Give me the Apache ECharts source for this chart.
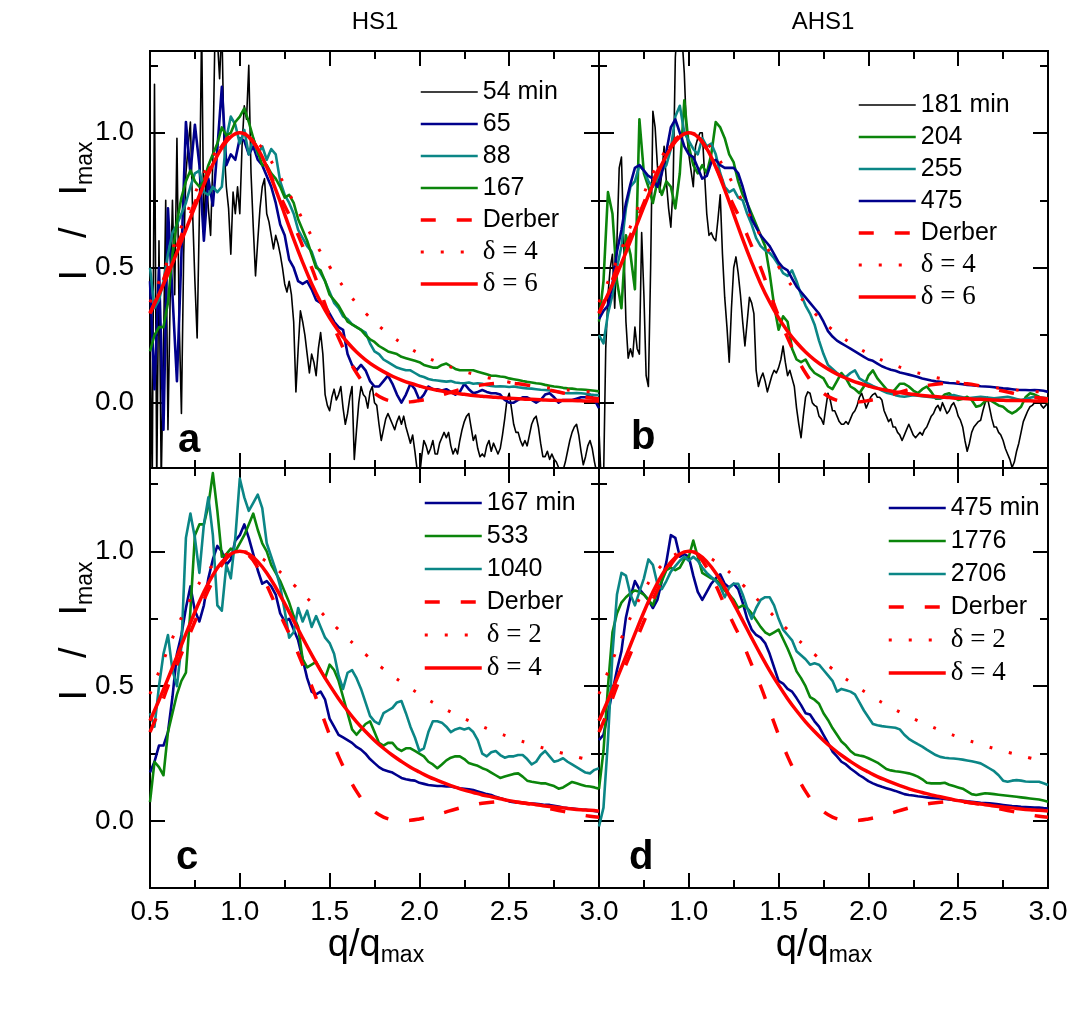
<!DOCTYPE html>
<html><head><meta charset="utf-8">
<script src="https://cdn.jsdelivr.net/npm/echarts@6/dist/echarts.min.js"></script>
<style>html,body{margin:0;padding:0;background:#fff}#c{width:1080px;height:1010px}</style>
</head><body><div id="c"></div>
<script>
// ---------- x sample positions (q/qmax) ----------
const qCoarse = [0.5,0.55,0.6,0.65,0.7,0.75,0.8,0.85,0.9,0.95,
1,1.05,1.1,1.15,1.2,1.25,1.3,1.35,1.4,1.45,
1.5,1.55,1.6,1.65,1.7,1.75,1.8,1.85,1.9,1.95,
2,2.05,2.1,2.15,2.2,2.25,2.3,2.35,2.4,2.45,
2.5,2.55,2.6,2.65,2.7,2.75,2.8,2.85,2.9,2.95,3];
const qFine = [0.5,0.525,0.55,0.575,0.6,0.625,0.65,0.675,0.7,0.725,
0.75,0.775,0.8,0.825,0.85,0.875,0.9,0.925,0.95,0.975,
1,1.025,1.05,1.075,1.1,1.125,1.15,1.175,1.2,1.225,
1.25,1.275,1.3,1.325,1.35,1.375,1.4,1.425,1.45,1.475,
1.5,1.525,1.55,1.575,1.6,1.625,1.65,1.675,1.7,1.725,
1.75,1.775,1.8,1.825,1.85,1.875,1.9,1.925,1.95,1.975,
2,2.025,2.05,2.075,2.1,2.125,2.15,2.175,2.2,2.225,
2.25,2.275,2.3,2.325,2.35,2.375,2.4,2.425,2.45,2.475,
2.5,2.525,2.55,2.575,2.6,2.625,2.65,2.675,2.7,2.725,
2.75,2.775,2.8,2.825,2.85,2.875,2.9,2.925,2.95,2.975,3];
const qBlack = [0.5,0.5125,0.525,0.5375,0.55,0.5625,0.575,0.5875,
0.6,0.6125,0.625,0.6375,0.65,0.6625,0.675,0.6875,
0.7,0.7125,0.725,0.7375,0.75,0.7625,0.775,0.7875,
0.8,0.8125,0.825,0.8375,0.85,0.8625,0.875,0.8875,
0.9,0.9125,0.925,0.9375,0.95,0.9625,0.975,0.9875,
1,1.0125,1.025,1.0375,1.05,1.0625,1.075,1.0875,
1.1,1.1125,1.125,1.1375,1.15,1.1625,1.175,1.1875,
1.2,1.2125,1.225,1.2375,1.25,1.2625,1.275,1.2875,
1.3,1.3125,1.325,1.3375,1.35,1.3625,1.375,1.3875,
1.4,1.4125,1.425,1.4375,1.45,1.4625,1.475,1.4875,
1.5,1.5125,1.525,1.5375,1.55,1.5625,1.575,1.5875,
1.6,1.6125,1.625,1.6375,1.65,1.6625,1.675,1.6875,
1.7,1.7125,1.725,1.7375,1.75,1.7625,1.775,1.7875,
1.8,1.8125,1.825,1.8375,1.85,1.8625,1.875,1.8875,
1.9,1.9125,1.925,1.9375,1.95,1.9625,1.975,1.9875,
2,2.0125,2.025,2.0375,2.05,2.0625,2.075,2.0875,
2.1,2.1125,2.125,2.1375,2.15,2.1625,2.175,2.1875,
2.2,2.2125,2.225,2.2375,2.25,2.2625,2.275,2.2875,
2.3,2.3125,2.325,2.3375,2.35,2.3625,2.375,2.3875,
2.4,2.4125,2.425,2.4375,2.45,2.4625,2.475,2.4875,
2.5,2.5125,2.525,2.5375,2.55,2.5625,2.575,2.5875,
2.6,2.6125,2.625,2.6375,2.65,2.6625,2.675,2.6875,
2.7,2.7125,2.725,2.7375,2.75,2.7625,2.775,2.7875,
2.8,2.8125,2.825,2.8375,2.85,2.8625,2.875,2.8875,
2.9,2.9125,2.925,2.9375,2.95,2.9625,2.975,2.9875,3];

// ---------- model curves (on qCoarse) ----------
const derber = [0.33,0.41,0.50,0.58,0.66,0.74,0.82,0.89,0.95,0.99,
1.00,0.985,0.94,0.875,0.80,0.73,0.66,0.58,0.50,0.41,
0.32,0.24,0.17,0.11,0.065,0.035,0.015,0.005,0.002,0.003,
0.008,0.015,0.024,0.034,0.044,0.053,0.06,0.066,0.07,0.072,
0.072,0.07,0.065,0.058,0.05,0.043,0.036,0.029,0.023,0.018,0.014];
const delta6 = [0.333,0.402,0.477,0.557,0.641,0.726,0.808,0.883,0.944,0.985,
1.0,0.985,0.941,0.873,0.789,0.698,0.606,0.52,0.441,0.373,
0.314,0.265,0.223,0.188,0.159,0.135,0.115,0.098,0.084,0.072,
0.062,0.053,0.046,0.040,0.035,0.031,0.027,0.024,0.021,0.019,
0.016,0.015,0.013,0.012,0.010,0.009,0.008,0.008,0.007,0.006,0.006];
const delta4 = [0.372,0.448,0.528,0.611,0.694,0.775,0.849,0.912,0.96,0.99,
1.0,0.99,0.962,0.92,0.866,0.806,0.743,0.679,0.617,0.558,
0.504,0.454,0.409,0.368,0.332,0.299,0.27,0.244,0.221,0.2,
0.182,0.165,0.151,0.138,0.126,0.115,0.106,0.097,0.09,0.083,
0.076,0.07,0.065,0.061,0.056,0.052,0.049,0.045,0.042,0.04,0.037];
const delta2 = [0.471,0.554,0.637,0.717,0.79,0.855,0.908,0.949,0.978,0.995,
1.0,0.995,0.982,0.962,0.937,0.908,0.877,0.843,0.81,0.776,
0.742,0.71,0.678,0.647,0.618,0.59,0.564,0.538,0.515,0.492,
0.471,0.45,0.431,0.413,0.396,0.38,0.365,0.351,0.337,0.324,
0.312,0.3,0.29,0.279,0.269,0.26,0.251,0.243,0.234,0.227,0.22];

// ---------- panel a: HS1 early (54 min on qBlack, others on qFine) ----------
const a54 = [0.30,-0.30,1.18,-0.30,0.60,-0.30,0.20,0.75,
-0.10,0.40,0.75,0.40,0.98,0.30,-0.04,0.55,
0.85,0.95,1.04,0.70,0.45,0.24,0.70,1.40,
0.60,0.85,0.72,0.62,0.90,1.40,1.35,1.20,
1.40,0.95,0.80,0.72,0.55,0.78,0.70,0.80,
0.70,0.95,1.10,1.05,1.25,0.85,0.65,0.47,
0.60,0.72,0.80,0.83,0.70,0.67,0.62,0.57,
0.62,0.59,0.55,0.50,0.44,0.41,0.45,0.40,
0.30,0.04,0.20,0.34,0.30,0.25,0.18,0.11,
0.18,0.15,0.10,0.20,0.26,0.18,0.03,-0.01,
-0.03,0.02,0.05,0.01,0.03,0.06,-0.02,-0.08,
-0.04,0.02,0.06,-0.21,-0.10,0.00,0.06,0.03,
0.02,-0.02,0.04,0.06,0.00,-0.01,-0.08,-0.14,
-0.10,-0.06,-0.04,-0.06,-0.08,-0.10,-0.07,-0.05,
-0.08,-0.05,-0.09,-0.12,-0.15,-0.12,-0.18,-0.25,
-0.28,-0.20,-0.14,-0.16,-0.19,-0.17,-0.14,-0.19,
-0.19,-0.15,-0.13,-0.11,-0.13,-0.11,-0.16,-0.19,
-0.17,-0.19,-0.14,-0.10,-0.07,-0.05,-0.04,-0.09,
-0.14,-0.12,-0.17,-0.20,-0.19,-0.20,-0.16,-0.14,
-0.18,-0.15,-0.17,-0.19,-0.17,-0.12,-0.06,0.01,
0.035,-0.02,-0.08,-0.11,-0.11,-0.14,-0.16,-0.14,
-0.16,-0.12,-0.08,-0.06,-0.05,-0.09,-0.15,-0.20,
-0.20,-0.18,-0.21,-0.19,-0.21,-0.22,-0.24,-0.26,
-0.25,-0.22,-0.18,-0.14,-0.11,-0.09,-0.08,-0.12,
-0.18,-0.23,-0.20,-0.16,-0.14,-0.17,-0.22,-0.26,-0.24];
const a65 = [0.45,0.05,0.50,-0.10,0.72,0.40,0.08,0.55,1.04,0.85,
1.03,0.88,0.60,0.83,0.73,0.94,1.17,0.88,0.92,0.90,
0.98,0.97,0.92,0.95,0.90,0.88,0.84,0.80,0.74,0.66,
0.62,0.53,0.50,0.45,0.44,0.45,0.42,0.38,0.37,0.36,
0.33,0.30,0.28,0.27,0.18,0.14,0.12,0.14,0.12,0.08,
0.06,0.06,0.08,0.10,0.07,0.03,0.00,0.03,0.07,0.05,
0.01,0.03,0.06,0.05,0.05,0.045,0.05,0.04,0.03,0.04,
0.07,0.05,0.035,0.04,0.047,0.04,0.035,0.035,0.03,0.01,
0.00,0.00,0.01,0.02,0.02,0.01,0.00,0.01,0.03,0.035,
0.02,0.00,0.01,0.01,0.01,0.015,0.02,0.02,0.03,0.01,-0.02];
const a88 = [0.50,0.35,0.38,0.45,0.55,0.63,0.66,0.70,0.74,0.80,
0.85,0.86,0.78,0.77,0.80,0.78,0.80,0.98,1.06,1.03,
0.96,1.01,0.92,0.98,0.92,0.95,0.90,0.94,0.92,0.82,
0.77,0.74,0.70,0.64,0.61,0.58,0.56,0.51,0.48,0.45,
0.41,0.37,0.35,0.32,0.31,0.29,0.28,0.27,0.26,0.22,
0.19,0.18,0.16,0.15,0.14,0.13,0.125,0.12,0.12,0.11,
0.10,0.095,0.088,0.084,0.082,0.08,0.078,0.08,0.075,0.073,
0.072,0.075,0.07,0.072,0.07,0.065,0.062,0.06,0.061,0.06,
0.058,0.06,0.057,0.055,0.053,0.052,0.05,0.048,0.047,0.045,
0.042,0.04,0.036,0.035,0.035,0.036,0.035,0.033,0.03,0.028,0.028];
const a167 = [0.19,0.25,0.28,0.28,0.37,0.55,0.67,0.76,0.82,0.86,
0.82,0.80,0.82,0.88,0.92,0.96,1.02,0.99,1.00,1.04,
1.06,1.09,1.04,0.98,0.93,0.88,0.88,0.85,0.83,0.80,
0.76,0.77,0.74,0.68,0.64,0.60,0.55,0.50,0.49,0.45,
0.40,0.38,0.36,0.33,0.30,0.29,0.28,0.27,0.25,0.235,
0.225,0.21,0.20,0.19,0.185,0.18,0.17,0.165,0.16,0.155,
0.15,0.14,0.135,0.13,0.13,0.14,0.145,0.135,0.125,0.12,
0.12,0.12,0.12,0.115,0.11,0.105,0.10,0.10,0.097,0.095,
0.09,0.087,0.084,0.08,0.077,0.075,0.072,0.07,0.066,0.063,
0.06,0.058,0.055,0.053,0.052,0.05,0.049,0.048,0.046,0.044,0.042];

// ---------- panel b: AHS1 early (181 min on qBlack) ----------
const b181 = [-0.10,-0.30,-0.30,0.20,0.40,0.50,0.55,0.35,
0.60,0.87,0.91,0.60,0.30,0.165,0.20,0.17,
0.28,0.20,0.18,0.63,0.40,0.10,0.06,0.50,
1.08,1.02,0.88,0.78,0.85,0.95,0.82,0.72,
0.65,0.80,1.28,1.40,1.40,1.35,1.22,1.00,
0.92,0.86,0.80,0.95,0.98,1.00,1.00,0.85,
0.70,0.62,0.63,0.61,0.60,0.68,0.77,0.55,
0.39,0.28,0.15,0.35,0.50,0.54,0.48,0.40,
0.30,0.21,0.30,0.39,0.37,0.33,0.12,0.06,
0.09,0.11,0.08,0.04,0.07,0.10,0.12,0.11,
0.13,0.16,0.21,0.15,0.10,0.12,0.09,0.06,
-0.02,-0.08,-0.13,-0.05,0.02,0.04,0.035,0.00,
-0.01,-0.015,-0.05,-0.06,-0.08,-0.02,0.035,0.01,
-0.03,-0.03,-0.05,-0.07,-0.08,-0.08,-0.07,-0.08,
-0.06,-0.04,-0.03,-0.01,0.02,0.035,0.01,-0.02,
0.00,0.02,0.03,0.035,0.02,0.02,0.01,-0.03,
-0.05,-0.07,-0.06,-0.09,-0.09,-0.11,-0.12,-0.14,
-0.12,-0.10,-0.08,-0.10,-0.12,-0.13,-0.12,-0.11,
-0.12,-0.10,-0.09,-0.07,-0.05,-0.04,-0.02,-0.01,
-0.03,0.00,-0.02,-0.04,-0.03,-0.01,0.00,-0.02,
-0.05,-0.065,-0.09,-0.14,-0.18,-0.15,-0.11,-0.09,
-0.08,-0.07,-0.065,-0.03,0.00,0.02,-0.02,-0.06,
-0.09,-0.09,-0.11,-0.12,-0.14,-0.17,-0.19,-0.21,
-0.24,-0.22,-0.18,-0.15,-0.11,-0.07,-0.05,-0.03,
-0.015,-0.01,0.00,0.005,0.01,-0.01,-0.02,-0.01,0.00];
const b204 = [0.30,0.45,0.78,0.70,0.45,0.35,0.62,0.55,0.42,1.05,
0.85,0.80,0.74,0.82,0.77,0.82,0.80,0.72,0.85,1.12,
0.95,0.88,0.85,0.88,0.85,0.92,1.04,1.02,0.98,0.92,
0.89,0.82,0.77,0.74,0.70,0.66,0.62,0.58,0.48,0.36,
0.27,0.32,0.30,0.20,0.16,0.15,0.16,0.13,0.11,0.10,
0.09,0.06,0.05,0.08,0.11,0.09,0.06,0.05,0.035,0.06,
0.10,0.12,0.09,0.07,0.05,0.035,0.05,0.07,0.07,0.06,
0.045,0.035,0.05,0.06,0.04,0.015,0.015,0.03,0.035,0.02,
0.01,0.015,0.022,0.01,-0.015,-0.01,0.005,0.01,0.0,-0.01,
-0.015,-0.03,-0.04,-0.03,-0.015,0.02,0.035,0.03,0.022,0.01,0.0];
const b255 = [0.25,0.22,0.33,0.40,0.50,0.58,0.72,0.80,0.82,0.88,
0.86,0.82,0.80,0.83,0.86,0.88,0.94,1.06,1.10,1.00,
0.97,0.94,0.92,0.98,0.95,0.96,0.92,0.85,0.80,0.78,
0.79,0.76,0.75,0.70,0.66,0.61,0.58,0.565,0.555,0.535,
0.51,0.48,0.47,0.49,0.45,0.40,0.36,0.33,0.29,0.23,
0.18,0.14,0.125,0.11,0.10,0.095,0.11,0.12,0.09,0.08,
0.07,0.062,0.055,0.045,0.037,0.033,0.028,0.024,0.022,0.025,
0.028,0.026,0.024,0.022,0.02,0.018,0.016,0.02,0.025,0.028,
0.024,0.02,0.016,0.018,0.02,0.022,0.02,0.018,0.016,0.018,
0.02,0.022,0.018,0.014,0.01,0.014,0.018,0.022,0.02,0.018,0.016];
const b475 = [0.31,0.34,0.36,0.44,0.56,0.64,0.74,0.81,0.87,0.88,
0.86,0.84,0.83,0.80,0.85,0.93,1.02,1.05,1.00,0.95,
0.92,0.91,0.87,0.83,0.84,0.89,0.90,0.88,0.87,0.87,
0.87,0.85,0.80,0.74,0.68,0.65,0.62,0.60,0.58,0.55,
0.52,0.50,0.49,0.46,0.43,0.41,0.39,0.37,0.35,0.33,
0.30,0.265,0.245,0.23,0.22,0.21,0.20,0.19,0.18,0.17,
0.16,0.155,0.145,0.135,0.128,0.122,0.118,0.112,0.108,0.104,
0.10,0.095,0.09,0.086,0.082,0.079,0.077,0.075,0.073,0.072,
0.07,0.068,0.066,0.065,0.063,0.061,0.06,0.059,0.057,0.055,
0.053,0.052,0.05,0.048,0.047,0.047,0.046,0.047,0.046,0.044,0.04];

// ---------- panel c: HS1 late ----------
const c167 = [0.18,0.22,0.28,0.28,0.33,0.46,0.62,0.69,0.79,0.87,
0.78,0.74,0.80,0.90,0.97,1.02,1.00,0.95,0.97,1.04,
1.06,1.10,1.05,0.99,0.93,0.88,0.89,0.87,0.84,0.77,
0.74,0.75,0.71,0.67,0.60,0.53,0.48,0.47,0.48,0.45,
0.38,0.35,0.32,0.31,0.30,0.29,0.275,0.265,0.25,0.23,
0.215,0.20,0.19,0.185,0.18,0.17,0.16,0.155,0.152,0.15,
0.142,0.138,0.134,0.132,0.13,0.13,0.128,0.128,0.125,0.122,
0.12,0.118,0.115,0.11,0.105,0.10,0.097,0.09,0.085,0.08,
0.073,0.07,0.069,0.068,0.066,0.065,0.064,0.062,0.06,0.06,
0.057,0.054,0.05,0.048,0.047,0.045,0.043,0.042,0.04,0.038,0.035];
const c533 = [0.07,0.22,0.20,0.17,0.33,0.40,0.47,0.52,0.55,0.78,
1.06,1.10,1.10,1.17,1.29,1.15,0.98,0.99,1.01,1.00,
1.03,1.06,1.10,1.14,1.08,1.03,1.00,0.95,0.92,0.89,
0.85,0.81,0.76,0.72,0.60,0.57,0.58,0.59,0.56,0.53,
0.58,0.56,0.52,0.46,0.40,0.34,0.32,0.34,0.36,0.37,
0.33,0.29,0.28,0.29,0.29,0.27,0.26,0.27,0.27,0.26,
0.25,0.24,0.22,0.21,0.196,0.21,0.225,0.235,0.24,0.24,
0.23,0.215,0.21,0.205,0.196,0.19,0.18,0.17,0.16,0.165,
0.17,0.175,0.177,0.165,0.15,0.146,0.143,0.14,0.14,0.135,
0.13,0.12,0.125,0.135,0.145,0.14,0.135,0.13,0.128,0.125,0.12];
const c1040 = [0.40,0.35,0.50,0.62,0.69,0.56,0.50,0.65,1.05,1.14,
1.05,0.92,1.10,1.20,1.06,0.80,0.78,0.95,0.90,1.05,
1.27,1.20,1.15,1.18,1.21,1.16,1.03,0.98,0.93,0.87,
0.78,0.68,0.70,0.79,0.74,0.78,0.72,0.76,0.72,0.68,
0.66,0.62,0.54,0.49,0.55,0.56,0.53,0.49,0.44,0.39,
0.37,0.36,0.40,0.41,0.42,0.44,0.445,0.40,0.35,0.31,
0.26,0.27,0.33,0.37,0.37,0.365,0.35,0.33,0.34,0.345,
0.34,0.345,0.33,0.30,0.25,0.24,0.255,0.26,0.245,0.235,
0.24,0.24,0.245,0.245,0.23,0.21,0.22,0.245,0.26,0.24,
0.22,0.225,0.233,0.22,0.21,0.20,0.19,0.18,0.177,0.19,0.196];

// ---------- panel d: AHS1 late ----------
const d475 = [0.30,0.32,0.40,0.48,0.56,0.63,0.755,0.83,0.89,0.86,
0.84,0.82,0.79,0.82,0.89,0.96,1.06,1.05,0.98,0.99,
0.98,0.91,0.85,0.82,0.85,0.88,0.90,0.915,0.88,0.866,
0.88,0.86,0.81,0.75,0.71,0.69,0.68,0.66,0.62,0.57,
0.52,0.51,0.49,0.48,0.456,0.43,0.40,0.395,0.37,0.35,
0.32,0.29,0.258,0.24,0.22,0.21,0.195,0.183,0.17,0.16,
0.148,0.14,0.133,0.127,0.122,0.117,0.112,0.106,0.10,0.097,
0.095,0.092,0.09,0.088,0.086,0.085,0.084,0.082,0.08,0.078,
0.077,0.075,0.073,0.072,0.07,0.068,0.067,0.066,0.064,0.062,
0.06,0.058,0.056,0.055,0.053,0.052,0.051,0.05,0.05,0.048,0.047];
const d1776 = [0.12,0.26,0.50,0.70,0.77,0.81,0.83,0.845,0.855,0.85,
0.84,0.82,0.80,0.85,0.89,0.93,0.94,0.93,0.94,0.97,
0.98,1.04,0.98,0.92,0.91,0.90,0.895,0.88,0.855,0.84,
0.82,0.79,0.80,0.79,0.77,0.745,0.72,0.70,0.69,0.70,
0.71,0.675,0.64,0.60,0.555,0.53,0.50,0.46,0.45,0.435,
0.40,0.375,0.345,0.32,0.295,0.28,0.26,0.247,0.243,0.24,
0.233,0.225,0.217,0.205,0.193,0.188,0.185,0.183,0.18,0.177,
0.172,0.165,0.155,0.142,0.14,0.14,0.14,0.142,0.135,0.13,
0.125,0.12,0.11,0.10,0.097,0.10,0.103,0.102,0.10,0.098,
0.096,0.094,0.092,0.09,0.088,0.086,0.084,0.082,0.08,0.076,0.072];
const d2706 = [-0.02,0.05,0.30,0.62,0.84,0.92,0.91,0.84,0.80,0.85,
0.90,0.97,0.95,0.88,0.86,0.89,0.925,0.945,0.965,0.98,
0.965,0.98,0.965,0.94,0.92,0.905,0.89,0.87,0.83,0.866,
0.88,0.88,0.84,0.79,0.75,0.79,0.82,0.83,0.83,0.80,
0.75,0.71,0.69,0.67,0.63,0.615,0.60,0.58,0.585,0.58,
0.56,0.54,0.52,0.48,0.49,0.485,0.48,0.47,0.44,0.41,
0.385,0.36,0.355,0.352,0.35,0.348,0.346,0.34,0.32,0.305,
0.295,0.285,0.276,0.265,0.255,0.245,0.238,0.235,0.233,0.232,
0.23,0.228,0.225,0.222,0.218,0.214,0.205,0.195,0.185,0.17,
0.15,0.146,0.15,0.152,0.15,0.147,0.146,0.146,0.146,0.14,0.134];

// ---------- ticks & texts ----------
const xMajorTicks = [0.5,1,1.5,2,2.5,3];
const xMinorTicks = [0.75,1.25,1.75,2.25,2.75];
const yMajorTicks = [0,0.5,1];
const yMinorTicks = [0.25,0.75,1.25];
const xLabelsLeft = [0.5,1,1.5,2,2.5,3];
const xLabelsRight = [1,1.5,2,2.5,3];
const yLabels = [0,0.5,1];
const sampleTitles = ['HS1','AHS1'];
const panelLetters = ['a','b','c','d'];

// ---------- styling ----------
const FONT = '"Liberation Sans", Arial, Helvetica, sans-serif';
const SERIF = '"Liberation Serif", "Times New Roman", serif';
const C = {black:'#000000', blue:'#00008c', green:'#0b850b', teal:'#0b8686', red:'#ff0000'};
const grids = [
  {left:150, top:51, width:449, height:417},
  {left:599, top:51, width:449, height:417},
  {left:150, top:468, width:449, height:420},
  {left:599, top:468, width:449, height:420}
];
const yRanges = [[-0.242,1.303],[-0.242,1.303],[-0.248,1.309],[-0.248,1.309]];

const xAxis = [], yAxis = [];
grids.forEach((g, i) => {
  const bx = {gridIndex:i, type:'value', min:0.5, max:3.0, splitLine:{show:false},
    axisLine:{show:false, onZero:false}, axisPointer:{show:false}};
  const tick = (vals, len) => ({show:true, inside:true, length:len, customValues:vals,
    lineStyle:{color:'#000', width:2}});
  const xl = i === 2 ? xLabelsLeft : (i === 3 ? xLabelsRight : null);
  xAxis.push(Object.assign({}, bx, {position:'bottom', axisTick:tick(xMajorTicks,15),
    axisLabel: xl ? {show:true, customValues:xl, showMinLabel:true, showMaxLabel:true,
      formatter:v=>Number(v).toFixed(1), fontSize:28, color:'#000', fontFamily:FONT, margin:10} : {show:false}}));
  xAxis.push(Object.assign({}, bx, {position:'bottom', axisTick:tick(xMinorTicks,8), axisLabel:{show:false}}));
  xAxis.push(Object.assign({}, bx, {position:'top', axisTick:tick(xMajorTicks,15), axisLabel:{show:false}}));
  xAxis.push(Object.assign({}, bx, {position:'top', axisTick:tick(xMinorTicks,8), axisLabel:{show:false}}));
  const by = {gridIndex:i, type:'value', min:yRanges[i][0], max:yRanges[i][1], splitLine:{show:false},
    axisLine:{show:false, onZero:false}, axisPointer:{show:false}};
  const yl = (i === 0 || i === 2);
  yAxis.push(Object.assign({}, by, {position:'left', axisTick:tick(yMajorTicks,15),
    axisLabel: yl ? {show:true, customValues:yLabels, formatter:v=>Number(v).toFixed(1),
      fontSize:28, color:'#000', fontFamily:FONT, margin:16} : {show:false}}));
  yAxis.push(Object.assign({}, by, {position:'left', axisTick:tick(yMinorTicks,8), axisLabel:{show:false}}));
  yAxis.push(Object.assign({}, by, {position:'right', axisTick:tick(yMajorTicks,15), axisLabel:{show:false}}));
  yAxis.push(Object.assign({}, by, {position:'right', axisTick:tick(yMinorTicks,8), axisLabel:{show:false}}));
});

const pairs = (xs, ys) => xs.map((x, k) => [x, ys[k]]);
const series = [];
function addLine(panel, name, xs, ys, color, width, type, smooth, z) {
  series.push({
    type:'line', name: panel + '|' + name, xAxisIndex: 4*'abcd'.indexOf(panel), yAxisIndex: 4*'abcd'.indexOf(panel),
    data: pairs(xs, ys), symbol:'none', showSymbol:false, smooth: smooth, clip:true, silent:true, z: z,
    lineStyle:{color:color, width:width, type:type, cap:'butt', join:'round'},
    itemStyle:{color:color}
  });
}
const DASH = [15, 21], DOT = [3, 17];
const W = 2.6;
// panel a
addLine('a','54 min', qBlack, a54, C.black, 1.6, 'solid', false, 2);
addLine('a','65', qFine, a65, C.blue, W, 'solid', false, 2);
addLine('a','88', qFine, a88, C.teal, W, 'solid', false, 2);
addLine('a','167', qFine, a167, C.green, W, 'solid', false, 2);
addLine('a','Derber', qCoarse, derber, C.red, 3.5, DASH, 0.4, 3);
addLine('a','δ = 4', qCoarse, delta4, C.red, 3, DOT, 0.4, 3);
addLine('a','δ = 6', qCoarse, delta6, C.red, 3.5, 'solid', 0.4, 3);
// panel b
addLine('b','181 min', qBlack, b181, C.black, 1.6, 'solid', false, 2);
addLine('b','204', qFine, b204, C.green, W, 'solid', false, 2);
addLine('b','255', qFine, b255, C.teal, W, 'solid', false, 2);
addLine('b','475', qFine, b475, C.blue, W, 'solid', false, 2);
addLine('b','Derber', qCoarse, derber, C.red, 3.5, DASH, 0.4, 3);
addLine('b','δ = 4', qCoarse, delta4, C.red, 3, DOT, 0.4, 3);
addLine('b','δ = 6', qCoarse, delta6, C.red, 3.5, 'solid', 0.4, 3);
// panel c
addLine('c','167 min', qFine, c167, C.blue, W, 'solid', false, 2);
addLine('c','533', qFine, c533, C.green, W, 'solid', false, 2);
addLine('c','1040', qFine, c1040, C.teal, W, 'solid', false, 2);
addLine('c','Derber', qCoarse, derber, C.red, 3.5, DASH, 0.4, 3);
addLine('c','δ = 2', qCoarse, delta2, C.red, 3, DOT, 0.4, 3);
addLine('c','δ = 4', qCoarse, delta4, C.red, 3.5, 'solid', 0.4, 3);
// panel d
addLine('d','475 min', qFine, d475, C.blue, W, 'solid', false, 2);
addLine('d','1776', qFine, d1776, C.green, W, 'solid', false, 2);
addLine('d','2706', qFine, d2706, C.teal, W, 'solid', false, 2);
addLine('d','Derber', qCoarse, derber, C.red, 3.5, DASH, 0.4, 3);
addLine('d','δ = 2', qCoarse, delta2, C.red, 3, DOT, 0.4, 3);
addLine('d','δ = 4', qCoarse, delta4, C.red, 3.5, 'solid', 0.4, 3);

const legendBase = {
  orient:'vertical', itemWidth:57, itemHeight:14, padding:0, selectedMode:false,
  textStyle:{fontSize:25, fontFamily:FONT, color:'#000', lineHeight:30,
    rich:{d:{fontFamily:SERIF, fontSize:27, lineHeight:30, color:'#000'}}},
  formatter: n => { const t = n.split('|')[1]; return t.charAt(0) === 'δ' ? '{d|' + t + '}' : t; },
  lineStyle:{width:'inherit'}, itemStyle:{opacity:0}
};
const legNames = p => series.filter(s => s.name.charAt(0) === p).map(s => s.name);
const legend = [
  Object.assign({}, legendBase, {left:419, top:77, itemGap:2, data:legNames('a')}),
  Object.assign({}, legendBase, {left:857, top:90, itemGap:2, data:legNames('b')}),
  Object.assign({}, legendBase, {left:423, top:488, itemGap:3, data:legNames('c')}),
  Object.assign({}, legendBase, {left:887, top:493, itemGap:3, data:legNames('d')})
];

const richAxis = {
  m:{fontSize:38, fontFamily:FONT, fill:'#000', verticalAlign:'middle'},
  w:{fontSize:38, fontFamily:FONT, width:32, verticalAlign:'middle'},
  s:{fontSize:23, fontFamily:FONT, fill:'#000', verticalAlign:'middle', padding:[20,0,0,0]}
};
const yTitle = '{m|I}{w| }{m|/}{w| }{m|I}{s|max}';
const xTitle = '{m|q/q}{s|max}';
const graphic = [
  {type:'text', x:375, y:22, style:{text:sampleTitles[0], fontSize:24, fontFamily:FONT, fill:'#000', align:'center', verticalAlign:'middle'}},
  {type:'text', x:823, y:22, style:{text:sampleTitles[1], fontSize:24, fontFamily:FONT, fill:'#000', align:'center', verticalAlign:'middle'}},
  {type:'text', x:178, y:441, style:{text:panelLetters[0], fontSize:40, fontWeight:'bold', fontFamily:FONT, fill:'#000', align:'left', verticalAlign:'middle'}},
  {type:'text', x:631, y:438, style:{text:panelLetters[1], fontSize:40, fontWeight:'bold', fontFamily:FONT, fill:'#000', align:'left', verticalAlign:'middle'}},
  {type:'text', x:176, y:858, style:{text:panelLetters[2], fontSize:40, fontWeight:'bold', fontFamily:FONT, fill:'#000', align:'left', verticalAlign:'middle'}},
  {type:'text', x:629, y:858, style:{text:panelLetters[3], fontSize:40, fontWeight:'bold', fontFamily:FONT, fill:'#000', align:'left', verticalAlign:'middle'}},
  {type:'text', x:76, y:211, rotation:Math.PI/2, style:{text:yTitle, rich:richAxis, align:'center', verticalAlign:'middle'}},
  {type:'text', x:76, y:631, rotation:Math.PI/2, style:{text:yTitle, rich:richAxis, align:'center', verticalAlign:'middle'}},
  {type:'text', x:376, y:946, style:{text:xTitle, rich:richAxis, align:'center', verticalAlign:'middle'}},
  {type:'text', x:824, y:946, style:{text:xTitle, rich:richAxis, align:'center', verticalAlign:'middle'}}
];

const chart = echarts.init(document.getElementById('c'), null, {renderer:'canvas'});
chart.setOption({
  animation:false,
  backgroundColor:'#ffffff',
  grid: grids.map(g => Object.assign({show:true, borderColor:'#000', borderWidth:2, backgroundColor:'transparent', containLabel:false}, g)),
  xAxis: xAxis, yAxis: yAxis,
  legend: legend,
  series: series,
  graphic: graphic
});
</script></body></html>
